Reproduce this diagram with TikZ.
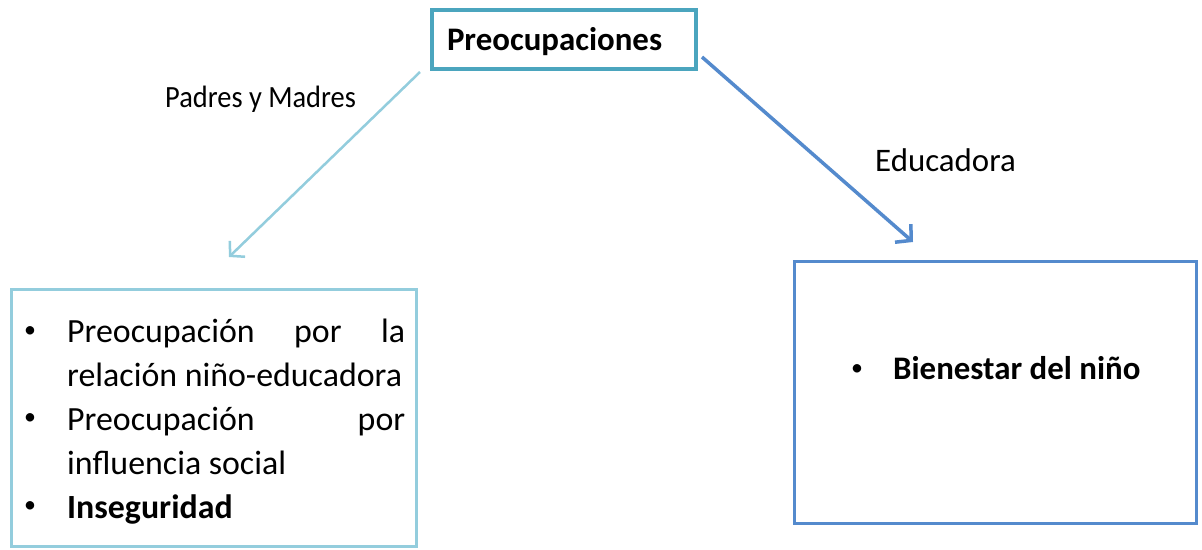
\documentclass[tikz,border=0pt]{standalone}
\usepackage{fontspec}
\setmainfont{Carlito}
\newfontfamily\tallfont{Carlito}[FakeStretch=0.92]
\usetikzlibrary{arrows.meta,calc}
\definecolor{tealc}{RGB}{75,165,190}
\definecolor{lightc}{RGB}{147,205,221}
\definecolor{bluec}{RGB}{84,138,205}
\tikzset{
  titlebox/.style={draw=tealc, line width=4bp, minimum width=264bp, minimum height=59bp,
    inner xsep=15bp, inner ysep=0pt, text height=29bp, text depth=6bp,
    font=\fontsize{33}{40}\selectfont\bfseries},
  leftbox/.style={draw=lightc, line width=3bp, minimum width=405bp, minimum height=257bp, inner sep=0pt},
  rightbox/.style={draw=bluec, line width=3bp, minimum width=402bp, minimum height=262bp, inner sep=0pt},
  listtxt/.style={anchor=base west, inner sep=0pt, font=\fontsize{34}{43}\selectfont},
  bul/.style={anchor=center, inner sep=0pt, font=\fontsize{24}{28}\selectfont},
  lbl/.style={anchor=base west, inner sep=0pt},
  lightarrow/.style={draw=lightc, line width=2.5bp, -{Straight Barb[length=10bp,width=22bp]}},
  bluearrow/.style={draw=bluec, line width=3.5bp, -{Straight Barb[length=11bp,width=24bp]}},
}
\begin{document}
\begin{tikzpicture}[x=1bp,y=-1bp]
\useasboundingbox (0,0) rectangle (1202,550);
\fill[white] (0,0) rectangle (1202,550);

% top box
\node[titlebox] (pre) at (564,39.5) {\makebox[234bp][l]{Preocupaciones}};

% labels
\node[lbl, font=\tallfont\fontsize{31}{37}\selectfont] (padres) at (165,108) {Padres y Madres};
\node[lbl, font=\fontsize{33}{40}\selectfont] (educ) at (875,172) {Educadora};

% left box
\node[leftbox] (pm) at (214,418) {};
\node[bul] (b1) at (30,332) {\textbullet};
\node[listtxt] (l1) at (67,343) {\makebox[338bp][s]{Preocupación\hfill por\hfill la}};
\node[listtxt] (l2) at (67,387) {relación niño-educadora};
\node[bul] (b2) at (30,419) {\textbullet};
\node[listtxt] (l3) at (67,430) {\makebox[338bp][s]{Preocupación\hfill por}};
\node[listtxt] (l4) at (67,474) {influencia social};
\node[bul] (b3) at (30,507) {\textbullet};
\node[listtxt, font=\fontsize{34}{43}\selectfont\bfseries] (l5) at (67,518) {Inseguridad};

% right box
\node[rightbox] (ed) at (995.5,392.5) {};
\node[bul] (b4) at (857,370) {\textbullet};
\node[listtxt, font=\fontsize{33}{40}\selectfont\bfseries] (r1) at (893,380) {Bienestar del niño};

% arrows
\coordinate (a1s) at (420,72);
\coordinate (a1e) at (229,257);
\coordinate (a2s) at (702,57);
\coordinate (a2e) at (913,242);
\draw[lightarrow] (a1s) -- (a1e);
\draw[bluearrow] (a2s) -- (a2e);
\end{tikzpicture}
\end{document}
